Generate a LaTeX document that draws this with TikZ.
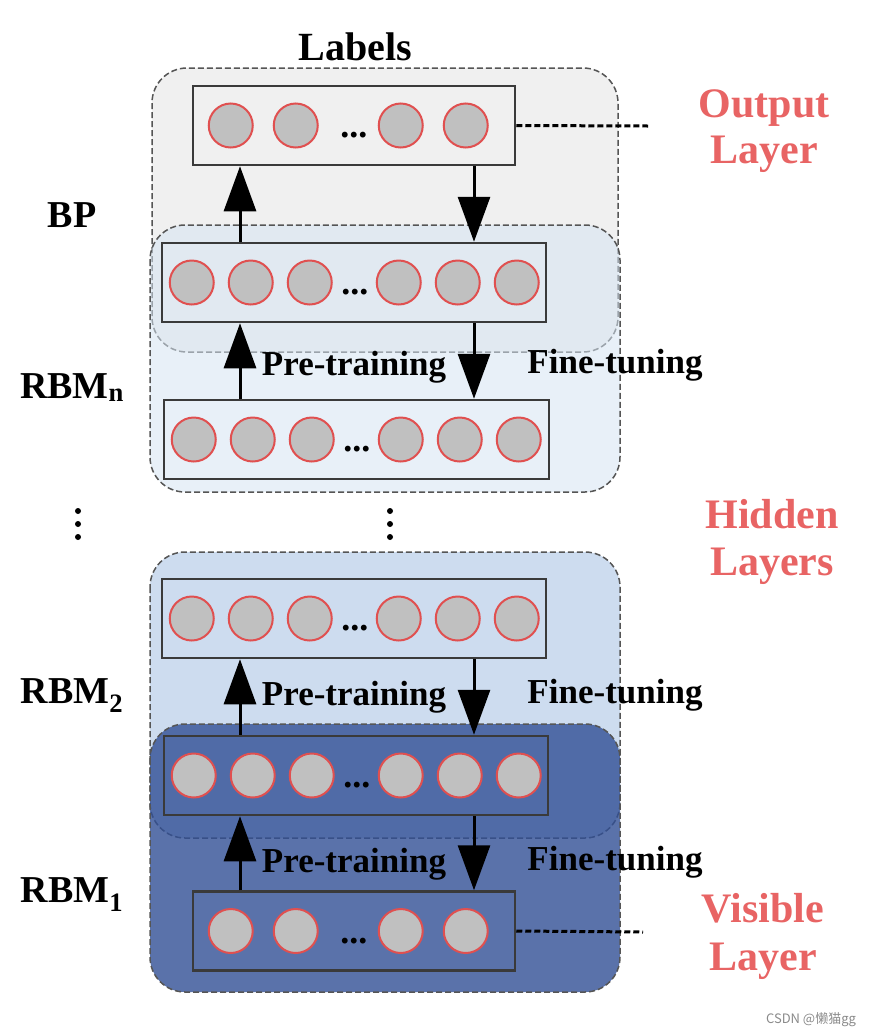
\documentclass[tikz,border=0pt]{standalone}
\usepackage{fontspec}
\setmainfont{Liberation Serif}
\newfontfamily\cjk{Noto Sans CJK SC}
\usetikzlibrary{arrows.meta,calc}
\definecolor{grpgray}{HTML}{F0F0F0}
\definecolor{grpblue}{HTML}{D5E4F2}
\definecolor{grplight}{HTML}{CDDCEF}
\definecolor{grpdark}{HTML}{314F95}
\definecolor{boxline}{HTML}{3A3A3A}
\definecolor{nfill}{HTML}{C0C0C0}
\definecolor{nline}{HTML}{E05050}
\definecolor{redlbl}{HTML}{E86464}
\definecolor{grpline}{HTML}{555555}
\definecolor{wm}{HTML}{8A8A8A}
\newcommand\sixrow[1]{%
  \foreach \dx [count=\i] in {31,90,149,238,297,356}
    \node[neuron] (#1c\i) at ($(#1.west)+(\dx,0)$) {};
  \node[dots] (#1d) at ($(#1.west)+(194,12)$) {...};}
\newcommand\fourrow[1]{%
  \foreach \dx [count=\i] in {39,104,209,274}
    \node[neuron] (#1c\i) at ($(#1.west)+(\dx,0)$) {};
  \node[dots] (#1d) at ($(#1.west)+(162,12)$) {...};}
\begin{document}
\begin{tikzpicture}[x=1pt,y=-1pt,
  group/.style={draw=grpline, line width=1.5pt, dash pattern=on 6pt off 3pt, rounded corners=35pt},
  layerbox/.style={draw=boxline, line width=2.5pt, inner sep=0pt, minimum height=79pt},
  neuron/.style={circle, fill=nfill, draw=nline, line width=2pt, minimum size=44pt, inner sep=0pt},
  dots/.style={font=\fontsize{36}{40}\selectfont\bfseries, anchor=base, inner sep=0pt},
  arr/.style={line width=3pt, -{Triangle[length=45pt,width=32pt]}},
  lbl/.style={font=\fontsize{38}{44}\selectfont\bfseries, anchor=base, inner sep=0pt},
  trn/.style={font=\fontsize{35}{40}\selectfont\bfseries, anchor=base, inner sep=0pt},
  red/.style={font=\fontsize{42}{46}\selectfont\bfseries, text=redlbl, anchor=base, inner sep=0pt},
  vdot/.style={circle, fill=black, minimum size=6pt, inner sep=0pt},
  dline/.style={line width=3pt, dash pattern=on 6pt off 3pt}]
\useasboundingbox (0,0) rectangle (872,1034);
% groups
\draw[group, fill=grpgray] (152,68) rectangle (618,352);
\draw[group, fill=grpblue, fill opacity=0.55] (150,225) rectangle (620,492);
\draw[group, fill=grplight] (150,552) rectangle (620,838);
\draw[group, fill=grpdark, fill opacity=0.8] (150,724) rectangle (620,992);
% layer boxes
\node[layerbox, minimum width=322pt] (out) at (354,125.5) {};
\node[layerbox, minimum width=384pt] (hn) at (354,282.5) {};
\node[layerbox, minimum width=385pt] (hm) at (356.5,439.5) {};
\node[layerbox, minimum width=384pt] (h2) at (354,618.5) {};
\node[layerbox, minimum width=384pt] (h1) at (356,775.5) {};
\node[layerbox, minimum width=322pt] (vis) at (354,931) {};
\fourrow{out}
\sixrow{hn}
\sixrow{hm}
\sixrow{h2}
\sixrow{h1}
\fourrow{vis}
% arrows
\coordinate (ux) at (240,0);
\coordinate (dx) at (474,0);
\foreach \lo/\hi in {hn/out, hm/hn, h1/h2, vis/h1} {
  \draw[arr] (\lo.north -| ux) -- (\hi.south -| ux);
  \draw[arr] (\hi.south -| dx) -- (\lo.north -| dx);
}
% dashed lines
\coordinate (oe) at (648,126);
\coordinate (ve) at (643,932);
\draw[dline] (out.east) -- (oe);
\draw[dline] (vis.east) -- (ve);
% vertical dots
\foreach \yy [count=\k] in {511,524,537} {
  \node[vdot] (la\k) at (78,\yy) {};
  \node[vdot] (ma\k) at (390,\yy) {};
}
% labels
\node[lbl, font=\fontsize{40}{44}\selectfont\bfseries] (labels) at (355,60) {Labels};
\node[lbl] (bp) at (72,227) {BP};
\node[lbl] (rbmn) at (72,398) {RBM\textsubscript{n}};
\node[lbl] (rbm2) at (72,703) {RBM\textsubscript{2}};
\node[lbl] (rbm1) at (72,902) {RBM\textsubscript{1}};
\foreach \yy/\nm in {375/a, 705/b, 872/c} {
  \node[trn] (pt\nm) at (354,\yy) {Pre-training};
  \node[trn] (ft\nm) at (615,\yy-2) {Fine-tuning};
}
\node[red] (ol1) at (764,117) {Output};
\node[red] (ol2) at (764,163) {Layer};
\node[red] (hl1) at (772,528) {Hidden};
\node[red] (hl2) at (772,575) {Layers};
\node[red] (vl1) at (763,922) {Visible};
\node[red] (vl2) at (763,970) {Layer};
\node[font=\cjk\fontsize{13}{15}\selectfont, text=wm, anchor=base, inner sep=0pt] (wmk) at (811,1023) {CSDN @懒猫gg};
\end{tikzpicture}
\end{document}
